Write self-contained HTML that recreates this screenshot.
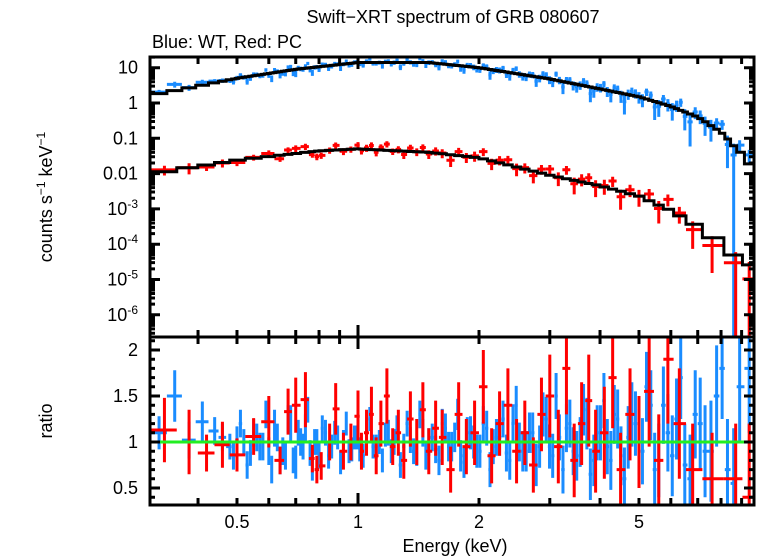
<!DOCTYPE html>
<html><head><meta charset="utf-8"><style>
html,body{margin:0;padding:0;background:#fff;}
svg{display:block;font-family:"Liberation Sans",sans-serif;}
</style></head><body>
<svg id="chart" width="758" height="556" xmlns="http://www.w3.org/2000/svg">
<defs>
<clipPath id="ctop"><rect x="150" y="57" width="604" height="280"/></clipPath>
<clipPath id="cbot"><rect x="150" y="337" width="604" height="168"/></clipPath>
</defs>
<text x="453" y="23" text-anchor="middle" font-size="18">Swift−XRT spectrum of GRB 080607</text>
<text x="152" y="48" font-size="18">Blue: WT, Red: PC</text>
<text transform="translate(52,197) rotate(-90)" text-anchor="middle" font-size="18">counts s<tspan baseline-shift="super" font-size="12">−1</tspan> keV<tspan baseline-shift="super" font-size="12">−1</tspan></text>
<text transform="translate(52,421) rotate(-90)" text-anchor="middle" font-size="18">ratio</text>
<text x="455" y="552" text-anchor="middle" font-size="18">Energy (keV)</text>
<g id="gtop" clip-path="url(#ctop)"></g>
<g id="gbot" clip-path="url(#cbot)"></g>
<g id="axes"></g>
</svg>
<script>
const wtE=[0.32,0.35,0.38,0.41,0.44,0.46,0.48,0.5,0.52,0.54,0.56,0.58,0.6,0.62,0.64,0.66,0.68,0.7,0.72,0.74,0.76,0.78,0.8,0.83,0.86,0.89,0.92,0.95,0.98,1.01,1.05,1.09,1.13,1.17,1.21,1.25,1.3,1.35,1.4,1.45,1.5,1.56,1.62,1.68,1.74,1.8,1.87,1.94,2.01,2.09,2.17,2.25,2.34,2.43,2.52,2.62,2.72,2.83,2.94,3.05,3.17,3.3,3.43,3.57,3.71,3.86,4.01,4.17,4.34,4.51,4.7,4.9,5.1,5.35,5.6,5.9,6.2,6.5,6.9,7.3,7.8,8.3,8.9,9.4];
const wtRatio=[1.1,1.5,1.02,1.22,1.12,1.05,0.95,1.02,1.0,0.88,1.05,0.95,0.9,1.15,0.8,0.85,1.2,0.78,1.0,1.15,0.88,1.0,0.85,1.1,0.95,1.05,1.0,0.9,1.05,0.92,1.1,0.95,1.0,1.08,0.9,1.15,0.95,1.02,0.88,1.1,1.0,0.92,1.2,0.95,1.05,0.85,1.1,1.0,0.9,1.15,0.95,1.05,0.88,1.2,1.0,0.9,1.1,0.95,1.25,0.85,1.05,1.15,0.9,1.0,1.2,0.8,1.1,0.95,1.3,0.85,1.05,1.2,0.9,1.4,0.8,1.1,1.25,0.75,1.3,0.9,1.5,0.7,1.6,1.8];
const wtErr=[0.18,0.28,0.2,0.22,0.15,0.15,0.14,0.15,0.14,0.14,0.15,0.15,0.15,0.2,0.15,0.15,0.2,0.18,0.15,0.15,0.14,0.14,0.14,0.14,0.13,0.13,0.13,0.13,0.13,0.13,0.13,0.13,0.13,0.13,0.13,0.14,0.14,0.14,0.14,0.15,0.15,0.15,0.16,0.16,0.16,0.17,0.17,0.18,0.18,0.19,0.19,0.2,0.2,0.21,0.21,0.22,0.22,0.23,0.24,0.24,0.25,0.26,0.26,0.27,0.28,0.28,0.3,0.3,0.32,0.32,0.34,0.35,0.36,0.38,0.4,0.42,0.44,0.45,0.48,0.5,0.55,0.55,0.6,0.7];
const wtE2=[0.49,0.51,0.53,0.55,0.57,0.59,0.61,0.63,0.65,0.67,0.69,0.71,0.73,0.75,0.77,0.79,0.815,0.845,0.875,0.905,0.935,0.965,0.995,1.03,1.07,1.11,1.15,1.19,1.23,1.275,1.325,1.375,1.425,1.475,1.53,1.59,1.65,1.71,1.77,1.835,1.905,1.975,2.05,2.13,2.21,2.295,2.385,2.475,2.57,2.67,2.775,2.885,2.995,3.11,3.235,3.365,3.5,3.64,3.785,3.935,4.09,4.255,4.425,4.6,4.8,5.0,5.22,5.47,5.75,6.05,6.35,6.7,7.1,7.55,8.05,8.6];
const wtRatio2=[0.85,1.2,0.75,1.1,0.95,1.3,0.7,1.05,0.9,1.25,0.8,1.1,0.95,1.35,0.72,1.0,1.15,0.85,1.1,0.78,1.2,0.92,1.05,0.85,1.25,0.95,0.8,1.1,1.0,0.75,1.2,0.9,1.3,0.85,1.05,0.8,1.15,0.95,1.3,0.78,1.1,0.9,1.2,0.7,1.05,1.25,0.8,1.4,0.9,1.1,0.75,1.3,0.95,1.5,0.7,1.2,0.85,1.35,0.65,1.1,1.45,0.8,1.25,0.6,1.3,1.0,1.6,0.7,1.4,0.85,1.7,0.6,1.2,0.9,1.8,0.55];
const wtErr2=[0.15,0.15,0.15,0.15,0.15,0.15,0.15,0.15,0.15,0.15,0.14,0.14,0.14,0.14,0.14,0.14,0.14,0.14,0.13,0.13,0.13,0.13,0.13,0.13,0.13,0.13,0.13,0.14,0.14,0.14,0.14,0.14,0.15,0.15,0.15,0.16,0.16,0.16,0.17,0.17,0.18,0.18,0.19,0.19,0.2,0.2,0.21,0.21,0.22,0.22,0.23,0.24,0.24,0.25,0.26,0.26,0.27,0.28,0.28,0.3,0.3,0.32,0.32,0.34,0.35,0.36,0.38,0.4,0.42,0.44,0.45,0.48,0.5,0.55,0.55,0.6];
const pcE=[0.33,0.38,0.42,0.46,0.5,0.55,0.6,0.64,0.67,0.7,0.74,0.77,0.79,0.81,0.85,0.88,0.92,0.96,1.0,1.02,1.05,1.08,1.11,1.14,1.18,1.22,1.26,1.3,1.35,1.4,1.45,1.5,1.56,1.62,1.7,1.78,1.86,1.95,2.05,2.15,2.25,2.36,2.48,2.6,2.73,2.86,3.0,3.15,3.3,3.45,3.6,3.75,3.9,4.1,4.3,4.5,4.75,5.0,5.3,5.6,5.9,6.3,6.8,7.6,8.7,9.4];
const pcRatio=[1.13,1.0,0.88,0.97,0.86,1.06,1.22,0.8,1.33,1.4,1.46,0.82,0.7,0.74,1.0,1.36,0.9,1.0,1.28,0.9,1.1,1.3,0.85,1.2,1.5,0.95,1.1,0.8,1.25,1.0,1.35,0.9,1.15,1.05,0.7,1.3,0.95,1.1,1.6,0.85,1.2,1.4,0.9,1.1,0.75,1.3,1.5,0.95,1.8,0.8,1.2,1.45,0.9,1.1,1.7,0.7,1.3,1.0,1.55,0.8,1.9,1.2,0.7,0.6,0.6,0.4];
const pcErr=[0.35,0.35,0.2,0.25,0.18,0.2,0.28,0.15,0.25,0.3,0.3,0.15,0.15,0.15,0.2,0.28,0.2,0.2,0.28,0.2,0.25,0.3,0.2,0.25,0.3,0.2,0.25,0.2,0.3,0.25,0.3,0.25,0.3,0.3,0.25,0.35,0.3,0.35,0.4,0.3,0.35,0.4,0.35,0.35,0.3,0.4,0.45,0.4,0.5,0.4,0.45,0.5,0.45,0.5,0.55,0.4,0.5,0.5,0.6,0.5,0.7,0.6,0.5,0.5,0.6,0.8];
const wtNodeE=[0.3,0.4,0.5,0.7,1,1.5,2,3,4,5,6,7,8,9,9.7];
const wtNodeV=[1.6,3.0,5.0,9,14,14,10,4.8,2.5,1.5,0.8,0.4,0.15,0.035,0.012];
const pcNodeE=[0.3,0.5,0.8,1,1.5,2,3,4,5,6,7,8,9.7];
const pcNodeV=[0.0095,0.024,0.044,0.05,0.04,0.028,0.009,0.0045,0.0023,0.0009,0.0003,0.0001,0.00002];
const xTickLabels=[0.5,1,2,5];
const yTopLabels=[["10",1],["1",0],["0.1",-1],["0.01",-2],["10","-3",-3],["10","-4",-4],["10","-5",-5],["10","-6",-6]];
const yBotLabels=[0.5,1,1.5,2];

const X0=150,X1=754,YT=57,YM=337,YB=505;
const xS=E=>358+402*Math.log10(E);
const yT=v=>103-35.3*Math.log10(v);
const yR=r=>442-92*(r-1);
const NS="http://www.w3.org/2000/svg";
function mk(tag,attrs,parent){const e=document.createElementNS(NS,tag);for(const k in attrs)e.setAttribute(k,attrs[k]);parent.appendChild(e);return e;}
function interp(E,ne,nv){
  const l=Math.log10(E);
  for(let i=0;i<ne.length-1;i++){const a=Math.log10(ne[i]),b=Math.log10(ne[i+1]);
    if(l<=b||i==ne.length-2){const t=(l-a)/(b-a);return Math.pow(10,Math.log10(nv[i])+t*(Math.log10(nv[i+1])-Math.log10(nv[i])));}}
}
function edges(E){const ed=[0.303];for(let i=0;i<E.length-1;i++)ed.push(Math.sqrt(E[i]*E[i+1]));ed.push(9.7);return ed;}
function merge(a,ar,ae,b,br,be){
  const pts=[];
  for(let i=0;i<Math.min(a.length,ar.length,ae.length);i++)pts.push([a[i],ar[i],ae[i]]);
  for(let i=0;i<Math.min(b.length,br.length,be.length);i++)pts.push([b[i],br[i],be[i]]);
  pts.sort((p,q)=>p[0]-q[0]);
  return [pts.map(p=>p[0]),pts.map(p=>p[1]),pts.map(p=>p[2])];
}
const gt=document.getElementById('gtop'),gb=document.getElementById('gbot'),ax=document.getElementById('axes');

function series(E,R,Er,ne,nv,col,nm,modelBins){
  const ed=edges(E);
  const gT=mk('g',{},gt);
  
  
  const gR=mk('g',{},gb);
  
  
  let d='';
  E.forEach((e,i)=>{
    const m=interp(e,ne,nv);const xa=xS(ed[i]),xb=xS(ed[i+1]),xc=xS(e);
    const v=m*R[i],lo=Math.max(m*(R[i]-Er[i]),1e-9),hi=m*(R[i]+Er[i]);
    mk('path',{d:`M${xa} ${yT(v)}H${xb}M${xc} ${yT(hi)}V${yT(lo)}`,stroke:col,'stroke-width':3,fill:'none'},gT);
    mk('path',{d:`M${xa} ${yR(R[i])}H${xb}M${xc} ${yR(R[i]+Er[i])}V${yR(R[i]-Er[i])}`,stroke:col,'stroke-width':3,fill:'none'},gR);
    d+=(i==0?`M${xa} ${yT(m)}`:`V${yT(m)}`)+`H${xb}`;
  });
  return d;
}
const W=merge(wtE,wtRatio,wtErr,wtE2,wtRatio2,wtErr2);
const dW=series(W[0],W[1],W[2],wtNodeE,wtNodeV,'#1a8cff','wt');
const dP=series(pcE,pcRatio,pcErr,pcNodeE,pcNodeV,'#ff0000','pc');
const m1=mk('path',{d:dW,stroke:'#000','stroke-width':3,fill:'none'},gt);


const m2=mk('path',{d:dP,stroke:'#000','stroke-width':3,fill:'none'},gt);


const gl=mk('line',{x1:X0,x2:X1,y1:yR(1),y2:yR(1),stroke:'#22ee22','stroke-width':3},gb);



const f1=mk('rect',{x:X0,y:YT,width:X1-X0,height:YM-YT,fill:'none',stroke:'#000','stroke-width':3},ax);


const f2=mk('rect',{x:X0,y:YM,width:X1-X0,height:YB-YM,fill:'none',stroke:'#000','stroke-width':3},ax);


let td='';
const xt=[0.4,0.5,0.6,0.7,0.8,0.9,1,2,3,4,5,6,7,8,9];
xt.forEach(e=>{const x=xS(e),L=e==1?12:7;[YT,YM,YB].forEach(y=>{if(y!=YT)td+=`M${x} ${y}v${-L}`;if(y!=YB)td+=`M${x} ${y}v${L}`;});});
for(let p=-7;p<=1;p++)for(let k=1;k<10;k++){const y=yT(k*Math.pow(10,p));if(y<YT||y>YM)continue;const L=k==1?10:5;td+=`M${X0} ${y}h${L}M${X1} ${y}h${-L}`;}
for(let r=4;r<=21;r++){const y=yR(r/10);if(y<YM||y>YB)continue;const L=r%5==0?10:5;td+=`M${X0} ${y}h${L}M${X1} ${y}h${-L}`;}
const tk=mk('path',{d:td,stroke:'#000','stroke-width':3,fill:'none'},ax);


xTickLabels.forEach(e=>{const t=mk('text',{x:xS(e),y:528,'text-anchor':'middle','font-size':18},ax);t.textContent=e;

});
yTopLabels.forEach(l=>{const p=l[l.length-1];const t=mk('text',{x:138,y:yT(Math.pow(10,p))+6,'text-anchor':'end','font-size':18},ax);
if(l.length==2)t.textContent=l[0];else{t.textContent=l[0];const s=mk('tspan',{'baseline-shift':'super','font-size':12},t);s.textContent=l[1];}

});
yBotLabels.forEach(r=>{const t=mk('text',{x:138,y:yR(r)+6,'text-anchor':'end','font-size':18},ax);t.textContent=r;

});
</script>
</body></html>
